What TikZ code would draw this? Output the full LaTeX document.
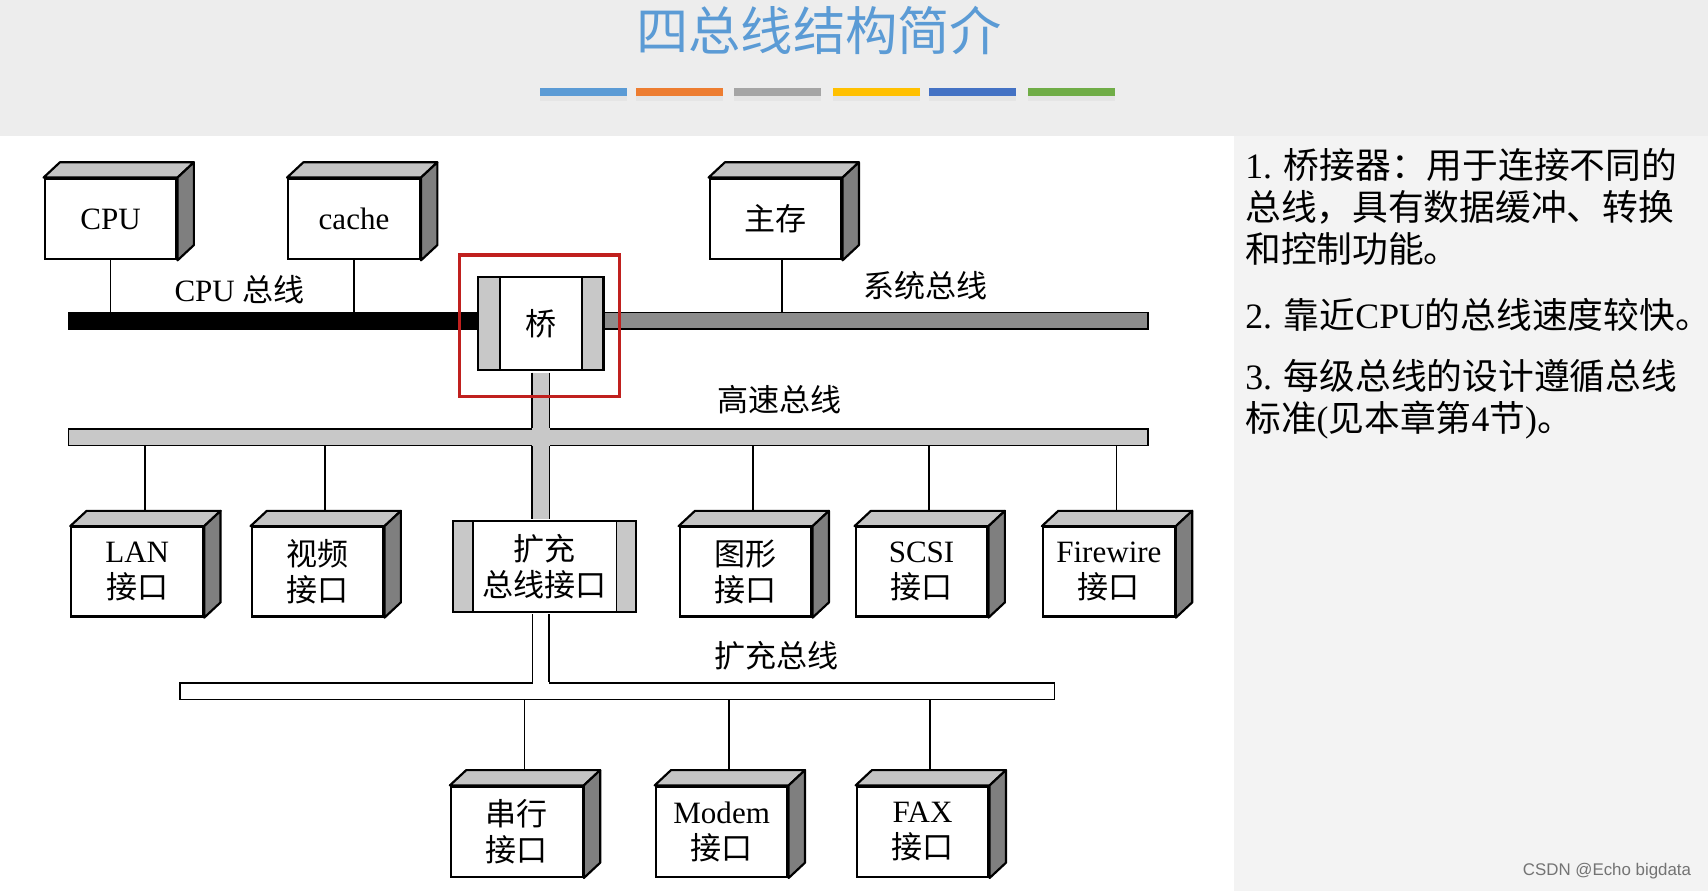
\documentclass[tikz,border=0pt]{standalone}
\usepackage{fontspec}
\setmainfont{Liberation Serif}
\newfontfamily\zhfont{Noto Sans CJK SC}
\newfontfamily\wmfont{Liberation Sans}
\usetikzlibrary{positioning}

\definecolor{titleblue}{HTML}{5B9BD5}
\definecolor{bar1}{HTML}{5B9BD5}
\definecolor{bar2}{HTML}{ED7D31}
\definecolor{bar3}{HTML}{A5A5A5}
\definecolor{bar4}{HTML}{FFC000}
\definecolor{bar5}{HTML}{4472C4}
\definecolor{bar6}{HTML}{70AD47}
\definecolor{headgray}{HTML}{EDEDED}
\definecolor{panelgray}{HTML}{F3F3F3}
\definecolor{topgray}{HTML}{C4C4C4}
\definecolor{sidegray}{HTML}{7F7F7F}
\definecolor{stripgray}{HTML}{C8C8C8}
\definecolor{sysgray}{HTML}{8C8C8C}
\definecolor{redline}{HTML}{C0201E}

\newcommand{\zh}[1]{{\zhfont #1}}
\newcommand{\boxfont}{\fontsize{28.5}{33}\selectfont}
\newcommand{\notefont}{\fontsize{32.8}{38.5}\selectfont}
\newcommand{\titlefont}{\zhfont\fontsize{48}{48}\selectfont}
\newcommand{\drawdepth}[1]{%
	\filldraw[line width=2pt,line join=round,fill=topgray] (#1.north west) -- ++(15,-14) -- ([shift={(15,-14)}]#1.north east) -- (#1.north east) -- cycle;
	\filldraw[line width=2pt,line join=round,fill=sidegray] (#1.north east) -- ([shift={(15,-14)}]#1.north east) -- ([shift={(15,-14)}]#1.south east) -- (#1.south east) -- cycle;}

\begin{document}
\begin{tikzpicture}[x=1pt,y=-1pt,
	dev/.style={draw,line width=2pt,fill=white,minimum width=121pt,minimum height=82pt,inner sep=0pt,align=center,font=\boxfont},
	bridge/.style={draw,line width=2pt,fill=white,inner sep=0pt,align=center,font=\boxfont,
		path picture={
			\fill[stripgray] (path picture bounding box.north west) rectangle ([xshift=#1]path picture bounding box.south west);
			\fill[stripgray] (path picture bounding box.north east) rectangle ([xshift=-#1]path picture bounding box.south east);
			\draw[line width=1.5pt] ([xshift=#1]path picture bounding box.north west) -- ([xshift=#1]path picture bounding box.south west);
			\draw[line width=1.5pt] ([xshift=-#1]path picture bounding box.north east) -- ([xshift=-#1]path picture bounding box.south east);}},
	bus/.style={draw,line width=1.5pt,minimum height=15pt,inner sep=0pt},
	buslabel/.style={font=\boxfont},
	stub/.style={line width=1.5pt}]
	\useasboundingbox (0,0) rectangle (1568,818);
	\fill[headgray] (0,0) rectangle (1568,818);
	\fill[white] (0,125) rectangle (1133,818);
	\fill[panelgray] (1133,125) rectangle (1568,818);

	\node[font=\titlefont,text=titleblue] (title) at (752,28) {四总线结构简介};
	\foreach \x/\c in {496/bar1,584/bar2,674/bar3,765/bar4,853/bar5,944/bar6}{
		\fill[black!10] (\x,88) rectangle ++(80,5);
		\fill[\c] (\x,81) rectangle ++(80,7);
	}

	\node[bus,fill=black,minimum width=407pt] (cpubus) at (266.5,294.5) {};
	\node[bus,fill=sysgray,minimum width=524pt] (sysbus) at (792,294.5) {};
	\node[bus,fill=stripgray,minimum width=991pt] (hsbus) at (558.5,401.5) {};
	\node[bus,fill=white,minimum width=803pt] (extbus) at (566.5,634.5) {};

	\node[bridge=20pt,minimum width=115pt,minimum height=86pt] (bridge) at (496.5,297) {\zh{桥}};
	\node[dev,minimum height=74pt] (cpu) at (101.5,201) {CPU};
	\node[dev,minimum height=74pt] (cache) at (325,201) {cache};
	\node[dev,minimum height=74pt] (mem) at (712,201) {\zh{主存}};

	\node[dev] (lan) at (126,525) {LAN\\\zh{接口}};
	\node[dev] (video) at (291.5,525) {\zh{视频}\\\zh{接口}};
	\node[bridge=18pt,minimum width=168pt,minimum height=84pt] (extif) at (500,520) {\zh{扩充}\\\zh{总线接口}};
	\node[dev] (gfx) at (684.5,525) {\zh{图形}\\\zh{接口}};
	\node[dev] (scsi) at (846,525) {SCSI\\\zh{接口}};
	\node[dev] (fw) at (1018,525) {Firewire\\\zh{接口}};

	\node[dev,minimum height=83pt] (serial) at (474.5,763.5) {\zh{串行}\\\zh{接口}};
	\node[dev,minimum height=83pt] (modem) at (662.5,763.5) {Modem\\\zh{接口}};
	\node[dev,minimum height=83pt] (fax) at (847,763.5) {FAX\\\zh{接口}};

	\foreach \n in {cpu,cache,mem,lan,video,gfx,scsi,fw,serial,modem,fax}
		\drawdepth{\n};

	\draw[stub] (cpu.south) -- (cpu.south |- cpubus.north);
	\draw[stub] (cache.south) -- (cache.south |- cpubus.north);
	\draw[stub] ([xshift=6pt]mem.south) -- ([xshift=6pt]mem.south |- sysbus.north);
	\foreach \n in {lan,video,gfx,scsi,fw}{
		\coordinate (\n top) at ([shift={(7,-14)}]\n.north);
		\draw[stub] (\n top) -- (\n top |- hsbus.south);
	}
	\foreach \n in {serial,modem,fax}{
		\coordinate (\n top) at ([shift={(7,-14)}]\n.north);
		\draw[stub] (\n top) -- (\n top |- extbus.south);
	}

	\coordinate (stemtop) at ([yshift=-1pt]bridge.south);
	\coordinate (stemend) at (bridge.south |- extif.north);
	\coordinate (stembot) at ([yshift=1pt]stemend);
	\fill[stripgray] ([xshift=-8pt]stemtop) rectangle ([xshift=8pt]stembot);
	\draw[stub] ([xshift=-8pt]stemtop) -- ([xshift=-8pt]stemtop |- hsbus.north);
	\draw[stub] ([xshift=8pt]stemtop) -- ([xshift=8pt]stemtop |- hsbus.north);
	\draw[stub] ([xshift=-8pt]stembot) -- ([xshift=-8pt]stembot |- hsbus.south);
	\draw[stub] ([xshift=8pt]stembot) -- ([xshift=8pt]stembot |- hsbus.south);

	\coordinate (extend) at (bridge.south |- extif.south);
	\coordinate (exttop) at ([yshift=-1pt]extend);
	\fill[white] ([xshift=-7.5pt]exttop) rectangle ([xshift=7.5pt]exttop |- extbus.center);
	\draw[stub] ([xshift=-7.5pt]exttop) -- ([xshift=-7.5pt]exttop |- extbus.north);
	\draw[stub] ([xshift=7.5pt]exttop) -- ([xshift=7.5pt]exttop |- extbus.north);

	\draw[redline,line width=3pt] ([shift={(-16,-19)}]bridge.north west) rectangle ([shift={(14,23)}]bridge.south east);

	\node[buslabel] (cpulbl) at (220,266) {CPU \zh{总线}};
	\node[buslabel] (syslbl) at (850,262) {\zh{系统总线}};
	\node[buslabel] (hslbl) at (716,367) {\zh{高速总线}};
	\node[buslabel] (extlbl) at (713,602) {\zh{扩充总线}};

	\node[anchor=north west,align=left,inner sep=0pt,font=\notefont] (note1) at (1143,136) {1. \zh{桥接器：用于连接不同的}\\\zh{总线，具有数据缓冲、转换}\\\zh{和控制功能。}};
	\node[anchor=north west,align=left,inner sep=0pt,font=\notefont] (note2) at (1143,274) {2. \zh{靠近}CPU\zh{的总线速度较快。}};
	\node[anchor=north west,align=left,inner sep=0pt,font=\notefont] (note3) at (1143,330) {3. \zh{每级总线的设计遵循总线}\\\zh{标准}(\zh{见本章第}4\zh{节})\zh{。}};

	\node[anchor=east,font=\wmfont\fontsize{15.5}{15.5}\selectfont,text=black!55] (mark) at (1556,800) {CSDN @Echo bigdata};
\end{tikzpicture}
\end{document}
